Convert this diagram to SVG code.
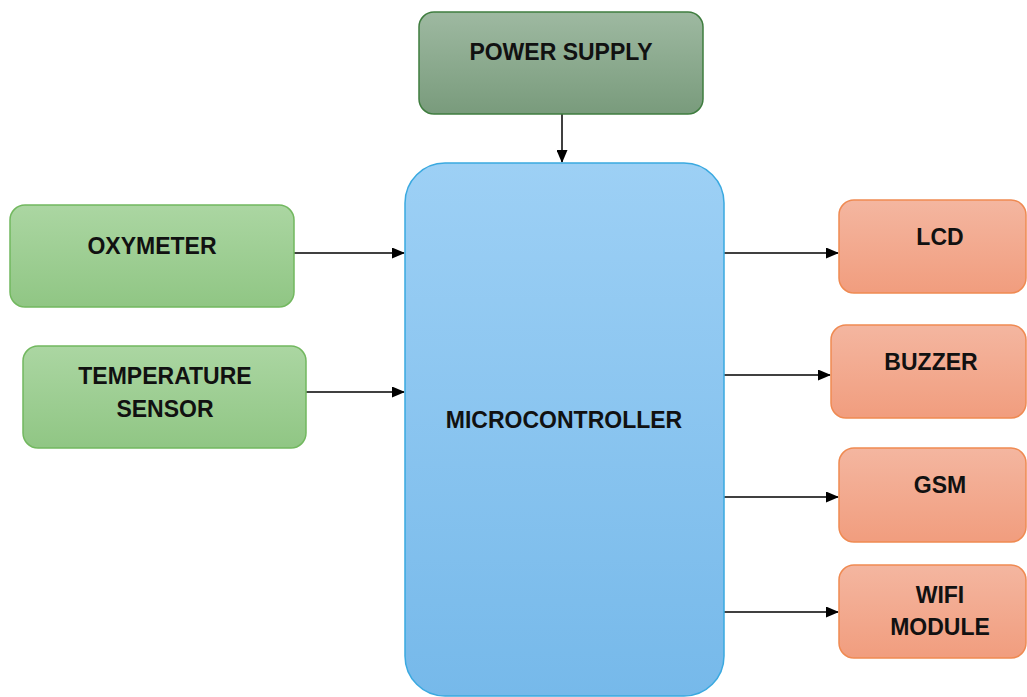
<svg xmlns="http://www.w3.org/2000/svg" width="1027" height="697" viewBox="0 0 1027 697">
<defs>
<linearGradient id="gPow" x1="0" y1="0" x2="0" y2="1"><stop offset="0" stop-color="#9eb9a1"/><stop offset="1" stop-color="#799b7c"/></linearGradient>
<linearGradient id="gGreen" x1="0" y1="0" x2="0" y2="1"><stop offset="0" stop-color="#abd6a2"/><stop offset="1" stop-color="#90c684"/></linearGradient>
<linearGradient id="gOr" x1="0" y1="0" x2="0" y2="1"><stop offset="0" stop-color="#f4b6a0"/><stop offset="1" stop-color="#f19d7e"/></linearGradient>
<linearGradient id="gBlue" x1="0" y1="0" x2="0" y2="1"><stop offset="0" stop-color="#9dd0f5"/><stop offset="1" stop-color="#76b9ea"/></linearGradient>
<marker id="arr" markerWidth="13" markerHeight="11" refX="12" refY="5.5" orient="auto" markerUnits="userSpaceOnUse"><path d="M0,0 L13,5.5 L0,11 Z" fill="#000"/></marker>
<style>
.t{font-family:"Liberation Sans",Arial,sans-serif;font-weight:bold;font-size:23px;fill:#111;text-anchor:middle}
.c{stroke:#000;stroke-width:1.5;fill:none;marker-end:url(#arr)}
</style>
</defs>
<g id="connectors">
<line class="c" x1="562" y1="114" x2="562" y2="162"/>
<line class="c" x1="294" y1="253" x2="404" y2="253"/>
<line class="c" x1="306" y1="392" x2="404" y2="392"/>
<line class="c" x1="724" y1="253" x2="838" y2="253"/>
<line class="c" x1="715" y1="375" x2="830" y2="375"/>
<line class="c" x1="724" y1="497" x2="838" y2="497"/>
<line class="c" x1="724" y1="612" x2="838" y2="612"/>
</g>
<g id="power"><rect x="419" y="12" width="284" height="102" rx="15" fill="url(#gPow)" stroke="#3f7d3f" stroke-width="1.5"/><text class="t" x="561" y="60">POWER SUPPLY</text></g>
<g id="mcu"><rect x="405" y="163" width="319" height="533" rx="40" fill="url(#gBlue)" stroke="#3aa9e0" stroke-width="1.5"/><text class="t" x="564" y="428">MICROCONTROLLER</text></g>
<g id="oxy"><rect x="10" y="205" width="284" height="102" rx="15" fill="url(#gGreen)" stroke="#72b85f" stroke-width="1.5"/><text class="t" x="152" y="254">OXYMETER</text></g>
<g id="temp"><rect x="23" y="346" width="283" height="102" rx="15" fill="url(#gGreen)" stroke="#72b85f" stroke-width="1.5"/><text class="t" x="165" y="384">TEMPERATURE</text><text class="t" x="165" y="417">SENSOR</text></g>
<g id="lcd"><rect x="839" y="200" width="187" height="93" rx="15" fill="url(#gOr)" stroke="#ef8a52" stroke-width="1.5"/><text class="t" x="940" y="245">LCD</text></g>
<g id="buzzer"><rect x="831" y="325" width="195" height="93" rx="15" fill="url(#gOr)" stroke="#ef8a52" stroke-width="1.5"/><text class="t" x="931" y="370">BUZZER</text></g>
<g id="gsm"><rect x="839" y="448" width="187" height="94" rx="15" fill="url(#gOr)" stroke="#ef8a52" stroke-width="1.5"/><text class="t" x="940" y="493">GSM</text></g>
<g id="wifi"><rect x="839" y="565" width="187" height="93" rx="15" fill="url(#gOr)" stroke="#ef8a52" stroke-width="1.5"/><text class="t" x="940" y="603">WIFI</text><text class="t" x="940" y="635">MODULE</text></g>
</svg>
